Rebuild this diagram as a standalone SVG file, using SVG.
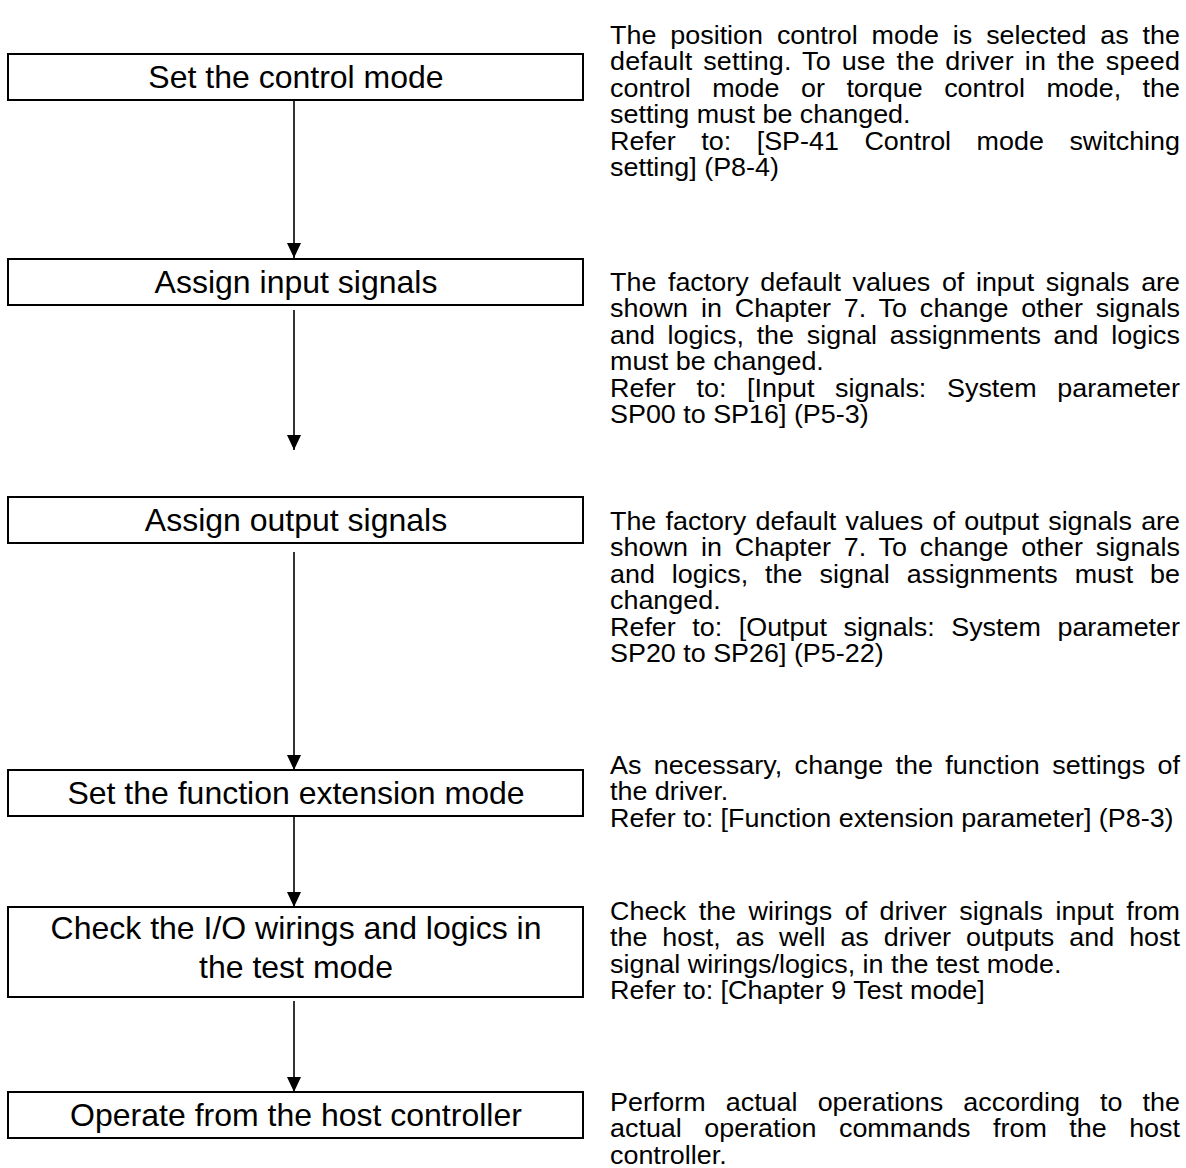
<svg xmlns="http://www.w3.org/2000/svg" width="1186" height="1168" viewBox="0 0 1186 1168">
<style>
.box{fill:#fff;stroke:#000;stroke-width:2}
.bt{font-family:"Liberation Sans",Arial,sans-serif;font-size:32px;text-anchor:middle;fill:#000}
.d{font-family:"Liberation Sans",Arial,sans-serif;font-size:25.5px;fill:#000}
.c{stroke:#000;stroke-width:1.6;fill:none}
</style>
<defs>
<marker id="ah" markerUnits="userSpaceOnUse" markerWidth="16" markerHeight="16" viewBox="0 0 16 16" refX="15" refY="8" orient="auto">
<path d="M0,1 L15,8 L0,15 Z" fill="#000"/>
</marker>
</defs>
<rect width="1186" height="1168" fill="#fff"/>
<g id="connectors">
<line class="c" x1="294" y1="100" x2="294" y2="258" marker-end="url(#ah)"/>
<line class="c" x1="294" y1="310" x2="294" y2="450" marker-end="url(#ah)"/>
<line class="c" x1="294" y1="552" x2="294" y2="770" marker-end="url(#ah)"/>
<line class="c" x1="294" y1="816" x2="294" y2="907" marker-end="url(#ah)"/>
<line class="c" x1="294" y1="1001" x2="294" y2="1092" marker-end="url(#ah)"/>
</g>
<g id="n1"><rect class="box" x="8" y="54" width="575" height="46"/><text class="bt" x="296" y="88">Set the control mode</text></g>
<g id="n2"><rect class="box" x="8" y="259" width="575" height="46"/><text class="bt" x="296" y="293">Assign input signals</text></g>
<g id="n3"><rect class="box" x="8" y="497" width="575" height="46"/><text class="bt" x="296" y="531">Assign output signals</text></g>
<g id="n4"><rect class="box" x="8" y="770" width="575" height="46"/><text class="bt" x="296" y="804">Set the function extension mode</text></g>
<g id="n5"><rect class="box" x="8" y="907" width="575" height="90"/><text class="bt" x="296" y="939">Check the I/O wirings and logics in</text><text class="bt" x="296" y="978">the test mode</text></g>
<g id="n6"><rect class="box" x="8" y="1092" width="575" height="46"/><text class="bt" x="296" y="1126">Operate from the host controller</text></g>
<g id="notes" transform="matrix(1.055,0,0,1,610,0)">
<text class="d" x="0" y="44" word-spacing="6.1" textLength="540.3" lengthAdjust="spacing">The position control mode is selected as the</text>
<text class="d" x="0" y="70.4" word-spacing="2.9" textLength="540.3" lengthAdjust="spacing">default setting. To use the driver in the speed</text>
<text class="d" x="0" y="96.8" word-spacing="13.3" textLength="540.3" lengthAdjust="spacing">control mode or torque control mode, the</text>
<text class="d" x="0" y="123.2">setting must be changed.</text>
<text class="d" x="0" y="149.6" word-spacing="17.1" textLength="540.3" lengthAdjust="spacing">Refer to: [SP-41 Control mode switching</text>
<text class="d" x="0" y="176">setting] (P8-4)</text>

<text class="d" x="0" y="291" word-spacing="3.9" textLength="540.3" lengthAdjust="spacing">The factory default values of input signals are</text>
<text class="d" x="0" y="317.4" word-spacing="4.9" textLength="540.3" lengthAdjust="spacing">shown in Chapter 7. To change other signals</text>
<text class="d" x="0" y="343.8" word-spacing="5" textLength="540.3" lengthAdjust="spacing">and logics, the signal assignments and logics</text>
<text class="d" x="0" y="370.2">must be changed.</text>
<text class="d" x="0" y="396.6" word-spacing="12.5" textLength="540.3" lengthAdjust="spacing">Refer to: [Input signals: System parameter</text>
<text class="d" x="0" y="423">SP00 to SP16] (P5-3)</text>

<text class="d" x="0" y="530" word-spacing="1.7" textLength="540.3" lengthAdjust="spacing">The factory default values of output signals are</text>
<text class="d" x="0" y="556.4" word-spacing="4.9" textLength="540.3" lengthAdjust="spacing">shown in Chapter 7. To change other signals</text>
<text class="d" x="0" y="582.8" word-spacing="9" textLength="540.3" lengthAdjust="spacing">and logics, the signal assignments must be</text>
<text class="d" x="0" y="609.2">changed.</text>
<text class="d" x="0" y="635.6" word-spacing="8.6" textLength="540.3" lengthAdjust="spacing">Refer to: [Output signals: System parameter</text>
<text class="d" x="0" y="662">SP20 to SP26] (P5-22)</text>

<text class="d" x="0" y="774" word-spacing="4.5" textLength="540.3" lengthAdjust="spacing">As necessary, change the function settings of</text>
<text class="d" x="0" y="800.4">the driver.</text>
<text class="d" x="0" y="826.8">Refer to: [Function extension parameter] (P8-3)</text>

<text class="d" x="0" y="920" word-spacing="4.7" textLength="540.3" lengthAdjust="spacing">Check the wirings of driver signals input from</text>
<text class="d" x="0" y="946.4" word-spacing="7.1" textLength="540.3" lengthAdjust="spacing">the host, as well as driver outputs and host</text>
<text class="d" x="0" y="972.8">signal wirings/logics, in the test mode.</text>
<text class="d" x="0" y="999.2">Refer to: [Chapter 9 Test mode]</text>

<text class="d" x="0" y="1111" word-spacing="12" textLength="540.3" lengthAdjust="spacing">Perform actual operations according to the</text>
<text class="d" x="0" y="1137.5" word-spacing="14.2" textLength="540.3" lengthAdjust="spacing">actual operation commands from the host</text>
<text class="d" x="0" y="1164">controller.</text>
</g>
</svg>
